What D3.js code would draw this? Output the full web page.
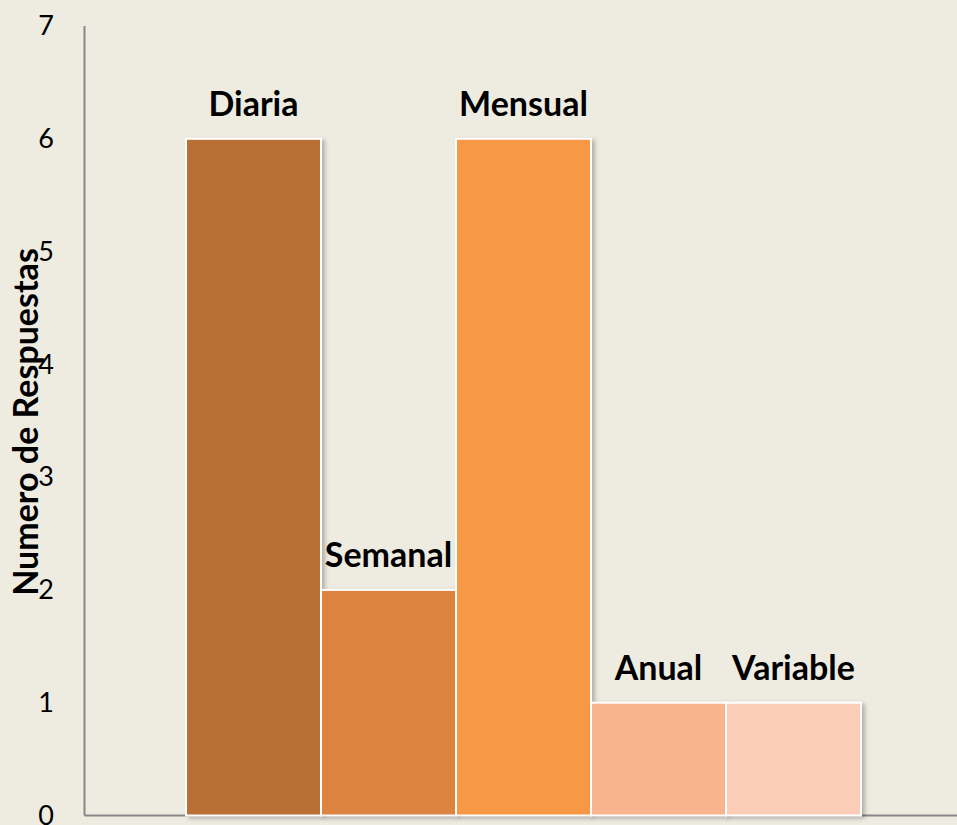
<!DOCTYPE html>
<html>
<head>
<meta charset="utf-8">
<script src="https://cdn.jsdelivr.net/npm/d3@7"></script>
<style>
  body { margin: 0; background: #eeebe0; overflow: hidden; }
</style>
</head>
<body>
<div id="chart"></div>
<script>
var categories = ["Diaria", "Semanal", "Mensual", "Anual", "Variable"];
var values = [6, 2, 6, 1, 1];
var barColors = ["#b97034", "#dc8340", "#f79847", "#f9b48e", "#fbcdb7"];
var yTicks = [0, 1, 2, 3, 4, 5, 6, 7];

var width = 957, height = 825;

var svg = d3.select("#chart")
    .append("svg")
    .attr("width", width)
    .attr("height", height)
    .style("background", "#eeebe0");

var defs = svg.append("defs");
var f = defs.append("filter").attr("id", "shadow")
    .attr("x", "-10%").attr("y", "-10%").attr("width", "120%").attr("height", "120%");
f.append("feDropShadow")
    .attr("dx", 3).attr("dy", 2).attr("stdDeviation", 2)
    .attr("flood-color", "#000").attr("flood-opacity", 0.25);

var x = d3.scaleBand()
    .domain(categories)
    .range([186, 861])
    .padding(0);

var y = d3.scaleLinear()
    .domain([0, 7])
    .range([815.5, 26]);

// axis lines
svg.append("line")
    .attr("x1", 84.5).attr("x2", 84.5)
    .attr("y1", y(7)).attr("y2", y(0))
    .attr("stroke", "#878787").attr("stroke-width", 2);
svg.append("line")
    .attr("x1", 84.5).attr("x2", width)
    .attr("y1", y(0)).attr("y2", y(0))
    .attr("stroke", "#878787").attr("stroke-width", 2);

// tick labels
svg.append("g")
    .selectAll("text")
    .data(yTicks)
    .enter().append("text")
    .attr("x", 46)
    .attr("y", function (d) { return y(d); })
    .attr("dy", "0.34em")
    .attr("text-anchor", "middle")
    .style("font-family", "Lato, 'Open Sans', sans-serif")
    .style("font-size", "27px")
    .style("fill", "#000")
    .text(function (d) { return d; });

// bars
svg.append("g")
    .selectAll("rect")
    .data(categories)
    .enter().append("rect")
    .attr("x", function (d) { return x(d); })
    .attr("y", function (d, i) { return y(values[i]); })
    .attr("width", x.bandwidth())
    .attr("height", function (d, i) { return y(0) - y(values[i]); })
    .attr("fill", function (d, i) { return barColors[i]; })
    .attr("stroke", "#ffffff")
    .attr("stroke-width", 2)
    .attr("filter", "url(#shadow)");

// bar labels
svg.append("g")
    .selectAll("text")
    .data(categories)
    .enter().append("text")
    .attr("x", function (d) { return x(d) + x.bandwidth() / 2; })
    .attr("y", function (d, i) { return y(values[i]) - 23; })
    .attr("text-anchor", "middle")
    .style("font-family", "Lato, 'Open Sans', sans-serif")
    .style("font-weight", "bold")
    .style("font-size", "34px")
    .style("fill", "#000")
    .text(function (d) { return d; });

// y label
svg.append("text")
    .attr("transform", "translate(38,422) rotate(-90)")
    .attr("text-anchor", "middle")
    .style("font-family", "Lato, 'Open Sans', sans-serif")
    .style("font-weight", "bold")
    .style("font-size", "34px")
    .style("fill", "#000")
    .text("Numero de Respuestas");
</script>
</body>
</html>
